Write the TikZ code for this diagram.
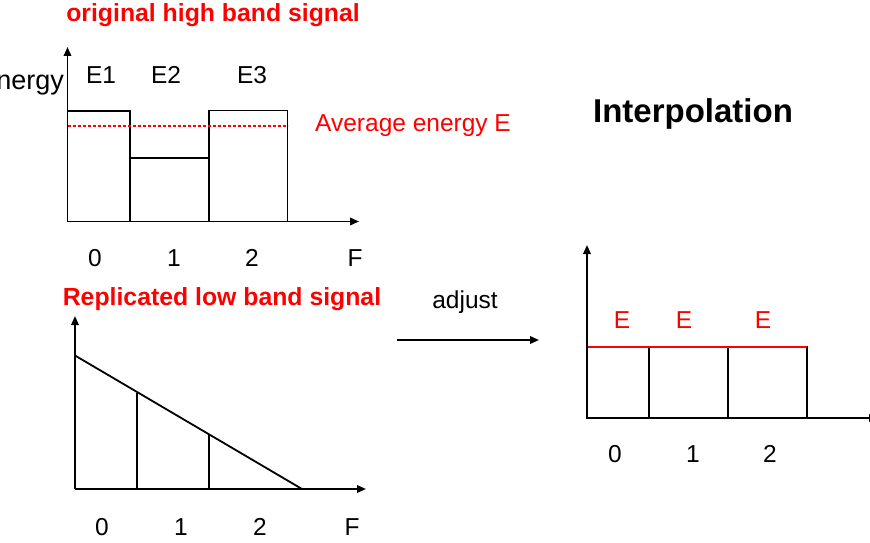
\documentclass[tikz,border=0pt]{standalone}
\usepackage{fontspec}
\setmainfont{Liberation Sans}
\usetikzlibrary{arrows.meta}

\begin{document}
\begin{tikzpicture}[
  x=1pt, y=-1pt,
  axis/.style={line width=1.8pt, -{Triangle[length=9pt, width=7.5pt]}},
  bar/.style={draw, line width=1.5pt},
  avg/.style={red, line width=1.2pt, dash pattern=on 3pt off 2pt},
  lvl/.style={red, line width=1.6pt},
  txt/.style={font=\fontsize{24.5}{29}\selectfont, inner sep=0pt, anchor=base},
  ttl/.style={font=\fontsize{24.8}{29}\selectfont\bfseries, text=red, inner sep=0pt, anchor=base},
  arr/.style={line width=1.8pt, -{Triangle[length=9pt, width=7.5pt]}}
]
  \useasboundingbox (0,0) rectangle (870,543);
  \clip (0,0) rectangle (870,543);

  % original high band signal (top left)
  \node[ttl] (hightitle) at (213,21.5) {original high band signal};
  \coordinate (hO) at (67.5,221.5);
  \draw[bar] (hO) rectangle (130,111);
  \draw[bar] (130,221.5) rectangle (209,158);
  \draw[bar] (209,221.5) rectangle (287.5,110.5);
  \draw[avg] (67.5,126) -- (287.5,126);
  \draw[axis] (hO) -- (67.5,47);
  \draw[axis] (hO) -- (359,221.5);
  \node[txt, anchor=base east, font=\fontsize{27}{31}\selectfont] (energy) at (64,89) {Energy};
  \node[txt] (e1) at (101,83) {E1};
  \node[txt] (e2) at (166,83) {E2};
  \node[txt] (e3) at (252,83) {E3};
  \node[txt, anchor=base west, text=red] (avgE) at (315,131.5) {Average energy E};
  \foreach \xx/\lab [count=\i] in {95/0, 174/1, 252/2, 355/F}
    \node[txt] (htick\i) at (\xx,266.5) {\lab};

  % Replicated low band signal (bottom left)
  \node[ttl] (lowtitle) at (222,305) {Replicated low band signal};
  \coordinate (lO) at (75,489);
  \coordinate (lS) at (75,355.5);
  \coordinate (lE) at (302,489);
  \draw[line width=1.8pt] (lS) -- (lE);
  \draw[line width=1.2pt] (137,392.5) -- (137,489);
  \draw[line width=1.2pt] (209,434.5) -- (209,489);
  \draw[axis] (lO) -- (75,316);
  \draw[axis] (lO) -- (366,489);
  \foreach \xx/\lab [count=\i] in {102/0, 181/1, 260/2, 352/F}
    \node[txt] (ltick\i) at (\xx,535) {\lab};

  % adjust arrow
  \coordinate (adjA) at (397,340);
  \coordinate (adjB) at (539,340);
  \draw[arr] (adjA) -- (adjB);
  \node[txt] (adjust) at (465,308) {adjust};

  % Interpolation (right)
  \node[txt, font=\fontsize{33}{38}\selectfont\bfseries] (interp) at (693,122) {Interpolation};
  \coordinate (rO) at (587,418);
  \draw[bar] (rO) rectangle (649,347);
  \draw[bar] (649,418) rectangle (728,347);
  \draw[bar] (728,418) rectangle (807,347);
  \draw[lvl] (587,347) -- (807,347);
  \draw[axis] (rO) -- (587,245);
  \draw[axis] (rO) -- (878,418);
  \foreach \xx [count=\i] in {622,684,763}
    \node[txt, text=red] (rE\i) at (\xx,328) {E};
  \foreach \xx/\lab [count=\i] in {615/0, 693/1, 770/2}
    \node[txt] (rtick\i) at (\xx,462) {\lab};
\end{tikzpicture}
\end{document}
